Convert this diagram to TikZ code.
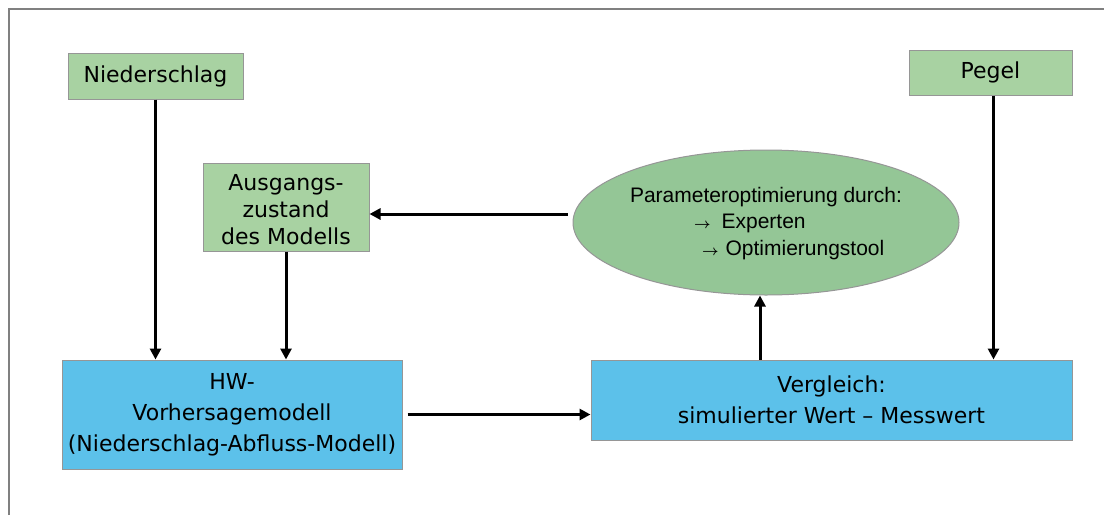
\documentclass[tikz,border=0pt]{standalone}
\usepackage{amsmath}
\usepackage{fontspec}
\setmainfont{DejaVu Sans}
\newfontfamily\arialfont{Liberation Sans}
\usetikzlibrary{shapes.geometric,arrows.meta,calc}

\definecolor{boxgreen}{RGB}{168,210,162}
\definecolor{ovalgreen}{RGB}{148,198,150}
\definecolor{boxblue}{RGB}{92,193,234}
\definecolor{edgegray}{RGB}{150,150,150}
\definecolor{framegray}{RGB}{128,128,128}

\newcommand{\rarr}{{\fontsize{15}{15}\selectfont$\boldsymbol{\rightarrow}$}}

\tikzset{
  inbox/.style={draw=edgegray, line width=1pt, fill=boxgreen, inner sep=0pt,
    align=center, font=\fontsize{22}{27}\selectfont},
  modelbox/.style={draw=edgegray, line width=1pt, fill=boxblue, inner sep=0pt,
    align=center, font=\fontsize{22}{31}\selectfont},
  oval/.style={ellipse, draw=edgegray, line width=1pt, fill=ovalgreen, inner sep=0pt},
  flow/.style={line width=3pt, -{Triangle[length=11pt,width=11pt]}},
}

\begin{document}
\begin{tikzpicture}[x=1pt,y=-1pt]
  \useasboundingbox (0,0) rectangle (1104,515);
  % page frame (top and left rules)
  \draw[framegray, line width=2pt] (8.5,515) -- (8.5,8.5) -- (1104,8.5);

  % inputs
  \node[inbox, minimum width=175pt, minimum height=46pt] (nied) at (155.5,76) {Niederschlag};
  \node[inbox, minimum width=163pt, minimum height=45pt] (peg) at (990.5,72.5) {Pegel};
  \node[inbox, minimum width=166pt, minimum height=88pt] (aus) at (286,207) {};
  \node[align=center, inner sep=0pt, font=\fontsize{22}{27}\selectfont] (austext) at (286,210)
    {Ausgangs-\\zustand\\des Modells};

  % model and comparison
  \node[modelbox, minimum width=340pt, minimum height=109pt] (hw) at (232,414.5)
    {HW-\\Vorhersagemodell\\(Niederschlag-Abfluss-Modell)};
  \node[modelbox, minimum width=481pt, minimum height=80pt] (verg) at (831.5,400)
    {Vergleich:\\simulierter Wert -- Messwert};

  % parameter optimisation
  \node[oval, minimum width=386pt, minimum height=145pt] (opt) at (766,222.5) {};
  \node[align=left, inner sep=0pt, font=\arialfont\fontsize{21}{26.5}\selectfont] (opttext) at (766,223.5)
    {Parameteroptimierung durch:\\
     \hspace*{64pt}\rarr\hspace*{11pt}Experten\\
     \hspace*{72pt}\rarr\hspace*{7pt}Optimierungstool};

  % connectors
  \draw[flow] (nied.south) -- (nied.south |- hw.north);
  \draw[flow] (aus.south) -- (aus.south |- hw.north);
  \draw[flow] ([xshift=3pt]peg.south) -- ([xshift=3pt]peg.south |- verg.north);
  \draw[flow] ([xshift=-6pt]opt.south |- verg.north) -- ([xshift=-6pt]opt.south);
  \draw[flow] ([xshift=-5pt]opt.west |- 0,214) -- (aus.east |- 0,214);
  \draw[flow] ([xshift=5pt]hw.east) -- (verg.west |- hw.east);
\end{tikzpicture}
\end{document}
